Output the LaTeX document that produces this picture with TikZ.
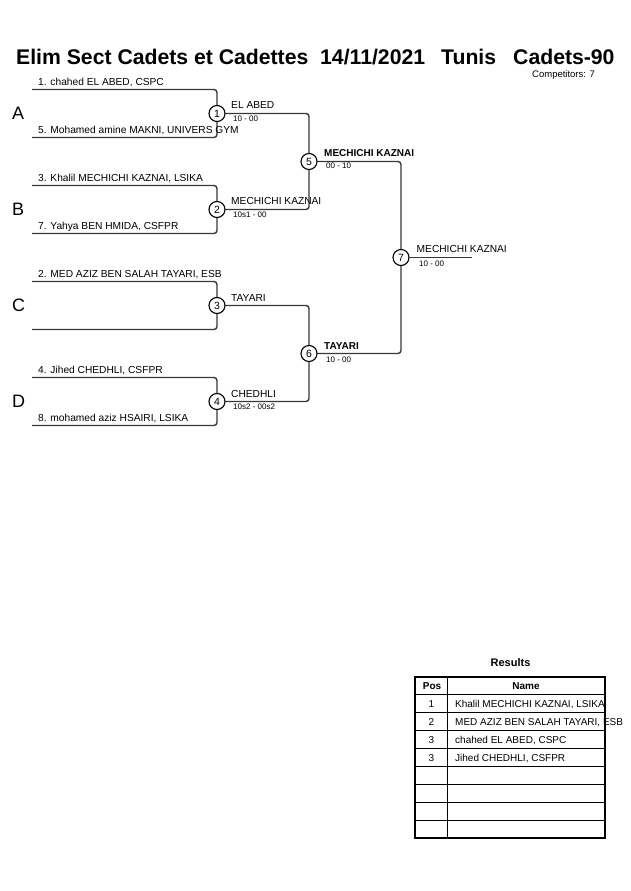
\documentclass[tikz,border=0pt]{standalone}
\usepackage{fontspec}
\setmainfont{Liberation Sans}
\pgfdeclarelayer{bg}
\pgfsetlayers{bg,main}
\definecolor{linegray}{RGB}{55,55,55}
\begin{document}
\begin{tikzpicture}[x=1pt,y=-1pt,
  br/.style={draw=linegray, line width=1.4pt, rounded corners=3pt},
  mc/.style={circle, draw=black, fill=white, line width=1.1pt, minimum size=16pt, inner sep=0pt, font=\fontsize{10.5}{12}\selectfont},
  nm/.style={anchor=base west, inner sep=0pt, font=\fontsize{10.2}{12}\selectfont},
  wb/.style={anchor=base west, inner sep=0pt, font=\bfseries\fontsize{10}{12}\selectfont},
  sc/.style={anchor=base west, inner sep=0pt, font=\fontsize{8}{9}\selectfont},
  grp/.style={anchor=base west, inner sep=0pt, font=\fontsize{18}{20}\selectfont},
  ttl/.style={anchor=base west, inner sep=0pt, font=\bfseries\fontsize{21.2}{25}\selectfont},
  tb/.style={anchor=base, inner sep=0pt, font=\bfseries\fontsize{10}{12}\selectfont},
  tc/.style={anchor=base, inner sep=0pt, font=\fontsize{10}{12}\selectfont},
  tn/.style={anchor=base west, inner sep=0pt, font=\fontsize{10}{12}\selectfont},
  rowline/.style={draw=black, line width=1pt},
  frame/.style={draw=black, line width=2pt}]
\useasboundingbox (0,0) rectangle (630,891);

% title
\node[ttl] (t1) at (16,64) {Elim Sect Cadets et Cadettes};
\node[ttl] (t2) at (320,64) {14/11/2021};
\node[ttl] (t3) at (441,64) {Tunis};
\node[ttl] (t4) at (513,64) {Cadets-90};
\node[anchor=base west, inner sep=0pt, font=\fontsize{9.5}{11}\selectfont] (comp) at (532,77.5) {Competitors: 7};

% line ends
\coordinate (p1t) at (32,89.5);  \coordinate (p1b) at (32,137.5);
\coordinate (p2t) at (32,185.5); \coordinate (p2b) at (32,233.5);
\coordinate (p3t) at (32,281.5); \coordinate (p3b) at (32,329.5);
\coordinate (p4t) at (32,377.5); \coordinate (p4b) at (32,425.5);
\coordinate (e7) at (472,257.5);

% match circles
\node[mc] (m1) at (217,113.5) {1};
\node[mc] (m2) at (217,209.5) {2};
\node[mc] (m3) at (217,305.5) {3};
\node[mc] (m4) at (217,401.5) {4};
\node[mc] (m5) at (309,161.5) {5};
\node[mc] (m6) at (309,353.5) {6};
\node[mc] (m7) at (401,257.5) {7};

\begin{pgfonlayer}{bg}
\draw[br] (p1t) -| (m1.center) |- (p1b);
\draw[br] (p2t) -| (m2.center) |- (p2b);
\draw[br] (p3t) -| (m3.center) |- (p3b);
\draw[br] (p4t) -| (m4.center) |- (p4b);
\draw[br] (m1.center) -| (m5.center) |- (m2.center);
\draw[br] (m3.center) -| (m6.center) |- (m4.center);
\draw[br] (m5.center) -| (m7.center) |- (m6.center);
\draw[br] (m7.center) -- (e7);
\end{pgfonlayer}

% group letters
\node[grp] (gA) at (12,119) {A};
\node[grp] (gB) at (12,215) {B};
\node[grp] (gC) at (12,311) {C};
\node[grp] (gD) at (12,407) {D};

% competitors
\node[nm] (n1) at (38,85) {1. chahed EL ABED, CSPC};
\node[nm] (n5) at (38,133.5) {5. Mohamed amine MAKNI, UNIVERS GYM};
\node[nm] (n3) at (38,181) {3. Khalil MECHICHI KAZNAI, LSIKA};
\node[nm] (n7) at (38,229.5) {7. Yahya BEN HMIDA, CSFPR};
\node[nm] (n2) at (38,277.3) {2. MED AZIZ BEN SALAH TAYARI, ESB};
\node[nm] (n4) at (38,373.3) {4. Jihed CHEDHLI, CSFPR};
\node[nm] (n8) at (38,421.3) {8. mohamed aziz HSAIRI, LSIKA};

% round 1 winners
\node[nm] (w1) at (231,108.7) {EL ABED};
\node[sc] (s1) at (233,121) {10 - 00};
\node[nm] (w2) at (231,204.7) {MECHICHI KAZNAI};
\node[sc] (s2) at (233,217) {10s1 - 00};
\node[nm] (w3) at (231,301.7) {TAYARI};
\node[nm] (w4) at (231,397.5) {CHEDHLI};
\node[sc] (s4) at (233,409.8) {10s2 - 00s2};

% round 2 winners
\node[wb] (w5) at (324,156.5) {MECHICHI KAZNAI};
\node[sc] (s5) at (326,168.8) {00 - 10};
\node[wb] (w6) at (324,349.5) {TAYARI};
\node[sc] (s6) at (326,362) {10 - 00};

% final
\node[nm] (w7) at (416.5,252.7) {MECHICHI KAZNAI};
\node[sc] (s7) at (419,266.5) {10 - 00};

% results
\node[anchor=base, inner sep=0pt, font=\bfseries\fontsize{11}{13}\selectfont] (res) at (510.5,666.7) {Results};
\node[tb] (hpos) at (432,689.5) {Pos};
\node[tb] (hname) at (526,689.5) {Name};
\node[tc] (r1p) at (431.5,707.5) {1};
\node[tn] (r1n) at (455,707.5) {Khalil MECHICHI KAZNAI, LSIKA};
\node[tc] (r2p) at (431.5,725.5) {2};
\node[tn] (r2n) at (455,725.5) {MED AZIZ BEN SALAH TAYARI, ESB};
\node[tc] (r3p) at (431.5,743.5) {3};
\node[tn] (r3n) at (455,743.5) {chahed EL ABED, CSPC};
\node[tc] (r4p) at (431.5,761.5) {3};
\node[tn] (r4n) at (455,761.5) {Jihed CHEDHLI, CSFPR};

\foreach \yy in {694,712,730,748,766,784,802,820}
  \draw[rowline] (415,\yy) -- (605,\yy);
\draw[rowline] (447,677) -- (447,838);
\draw[frame] (415,677) rectangle (605,838);
\end{tikzpicture}
\end{document}
